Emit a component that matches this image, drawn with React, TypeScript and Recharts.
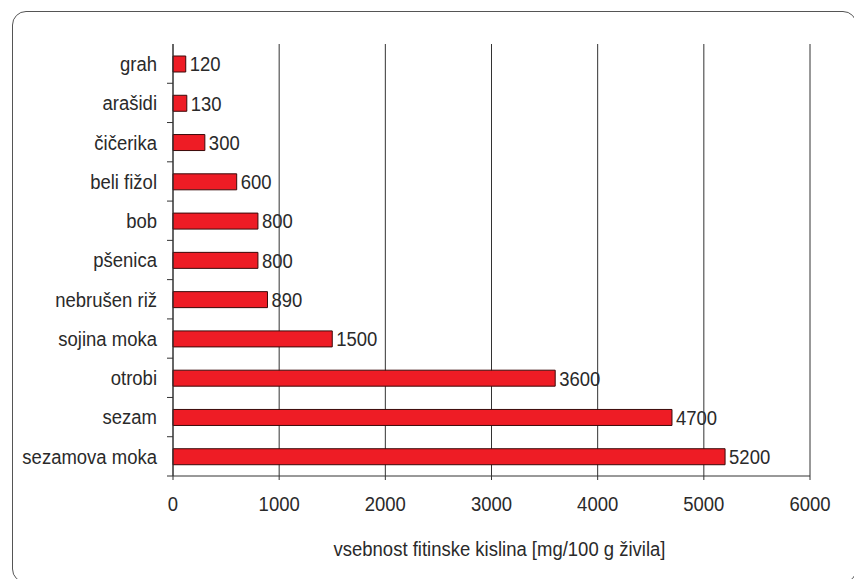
import React from 'react';
import { BarChart, Bar, XAxis, YAxis, CartesianGrid, LabelList, Label } from 'recharts';

// Phytic acid content of foods, mg per 100 g
const FOODS = ['grah', 'arašidi', 'čičerika', 'beli fižol', 'bob', 'pšenica', 'nebrušen riž', 'sojina moka', 'otrobi', 'sezam', 'sezamova moka'];
const PHYTIC_ACID = [120, 130, 300, 600, 800, 800, 890, 1500, 3600, 4700, 5200];
const VALUE_TICKS = [0, 1000, 2000, 3000, 4000, 5000, 6000];
const AXIS_TITLE = 'vsebnost fitinske kislina [mg/100 g živila]';

const data = FOODS.map((name, i) => ({ name, value: PHYTIC_ACID[i] }));

const W = 854;
const H = 579;
const MARGIN = { top: 44, right: 44, bottom: 0, left: 0 };
const Y_AXIS_W = 173;
const X_AXIS_H = 103;
const FONT = '"Liberation Sans", Arial, sans-serif';
const FONT_SIZE = 18.5;
const STRETCH = 1.1;
const TEXT = '#2a2a2a';
const LINE = '#333';
const TICK_LEN = 6;
const TICK_GAP = 16;

const PLOT_H = H - MARGIN.top - MARGIN.bottom - X_AXIS_H;
const BAND = PLOT_H / FOODS.length;

// Slightly tall, narrow lettering
const TallText = ({ x, y, anchor, baseline, children }: any) => (
  <text
    transform={`translate(${x},${y}) scale(1,${STRETCH})`}
    textAnchor={anchor}
    dominantBaseline={baseline}
    fontFamily={FONT}
    fontSize={FONT_SIZE}
    fill={TEXT}
  >
    {children}
  </text>
);

// Category label plus a short tick on the boundary below each category
const CategoryTick = (props: any) => {
  const { x, y, payload } = props;
  const axisX = x + TICK_GAP;
  const by = y + BAND / 2;
  return (
    <g>
      <line x1={axisX - TICK_LEN} x2={axisX} y1={by} y2={by} stroke={LINE} strokeWidth={1} />
      <TallText x={x} y={y} anchor="end" baseline="central">
        {payload.value}
      </TallText>
    </g>
  );
};

const ValueTick = (props: any) => {
  const { x, y, payload } = props;
  return (
    <TallText x={x} y={y} anchor="middle" baseline="hanging">
      {payload.value}
    </TallText>
  );
};

const BarValue = (props: any) => {
  const { x, y, width, height, value } = props;
  return (
    <TallText x={x + width + 4} y={y + height / 2} anchor="start" baseline="central">
      {value}
    </TallText>
  );
};

const AxisTitle = (props: any) => {
  const { viewBox } = props;
  return (
    <TallText x={viewBox.x + viewBox.width / 2 + 8} y={viewBox.y + viewBox.height - 23} anchor="middle" baseline="alphabetic">
      {AXIS_TITLE}
    </TallText>
  );
};

export default function App() {
  return (
    <div style={{ position: 'absolute', left: 0, top: 0, width: W, height: H, overflow: 'hidden', background: '#fff' }}>
      <div
        style={{
          position: 'absolute',
          left: 12,
          top: 11,
          width: 845,
          height: 572,
          border: '1.5px solid #555',
          borderRadius: 14,
          boxSizing: 'border-box',
        }}
      />
      <div style={{ position: 'absolute', left: 0, top: 0 }}>
        <BarChart
          width={W}
          height={H}
          data={data}
          layout="vertical"
          margin={MARGIN}
          barSize={16}
        >
          <CartesianGrid xAxisId="val" horizontal={false} stroke={LINE} strokeWidth={1} />
          <XAxis
            xAxisId="top"
            orientation="top"
            type="number"
            domain={[0, 6000]}
            height={0}
            tick={false}
            tickLine={false}
            axisLine={{ stroke: LINE, strokeWidth: 1 }}
          />
          <XAxis
            xAxisId="val"
            type="number"
            domain={[0, 6000]}
            ticks={VALUE_TICKS}
            interval={0}
            height={X_AXIS_H}
            tickSize={4}
            tickMargin={16}
            tickLine={{ stroke: LINE }}
            axisLine={{ stroke: LINE, strokeWidth: 1 }}
            tick={<ValueTick />}
          >
            <Label content={<AxisTitle />} position="insideBottom" />
          </XAxis>
          <YAxis
            type="category"
            dataKey="name"
            width={Y_AXIS_W}
            interval={0}
            tickSize={TICK_LEN}
            tickMargin={TICK_GAP - TICK_LEN}
            tickLine={false}
            axisLine={{ stroke: LINE, strokeWidth: 1 }}
            tick={<CategoryTick />}
          />
          <Bar
            xAxisId="val"
            dataKey="value"
            fill="#EE1C25"
            stroke="#3a0a0a"
            strokeWidth={1}
            isAnimationActive={false}
          >
            <LabelList dataKey="value" content={<BarValue />} />
          </Bar>
        </BarChart>
      </div>
    </div>
  );
}
